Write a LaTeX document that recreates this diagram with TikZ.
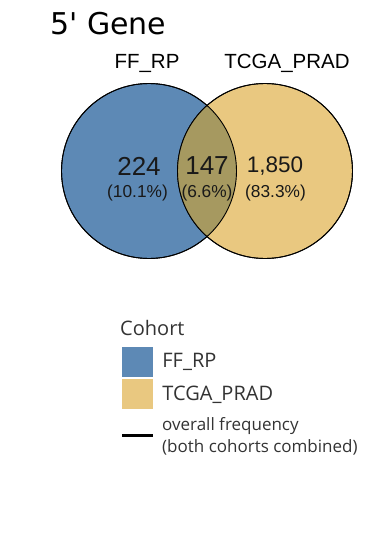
\documentclass[tikz,border=0pt]{standalone}
\usepackage{fontspec}
\usetikzlibrary{positioning}
\newfontfamily\vennfont{Liberation Sans}
\newfontfamily\legfont[Ligatures=TeXOff]{Open Sans}
\newfontfamily\titlefont[Ligatures=TeXOff]{DejaVu Sans}
\definecolor{ffrpblue}{RGB}{93,137,181}
\definecolor{tcgatan}{RGB}{233,200,128}
\definecolor{overlapolive}{RGB}{166,153,96}

\tikzstyle{cohort}=[circle,draw=black,line width=0.9pt,minimum size=175pt,inner sep=0pt]
\tikzstyle{count}=[inner sep=0pt,text=black!90,font=\vennfont\fontsize{26}{26}\selectfont]
\tikzstyle{share}=[inner sep=0pt,text=black!90,font=\vennfont\fontsize{17.3}{17.3}\selectfont]
\tikzstyle{setname}=[inner sep=0pt,font=\vennfont\fontsize{20.5}{20.5}\selectfont]
\tikzstyle{swatch}=[rectangle,minimum width=31pt,minimum height=30pt,inner sep=0pt]
\tikzstyle{leglabel}=[inner sep=0pt,anchor=west,font=\legfont\fontsize{20}{20}\selectfont,text=black!80]

\begin{document}
\begin{tikzpicture}[x=1pt,y=-1pt]
	\useasboundingbox (0,0) rectangle (371,535);
	\node [inner sep=0pt,anchor=base west,font=\titlefont\fontsize{30}{30}\selectfont] (title) at (50,35) {5' Gene};

	% venn
	\node [cohort,fill=ffrpblue] (ffrp) at (149,171) {};
	\node [cohort,fill=tcgatan]  (tcga) at (265,171) {};
	\begin{scope}
		\clip (ffrp.center) circle (87.5pt);
		\fill [overlapolive] (tcga.center) circle (87.5pt);
	\end{scope}
	\draw [line width=0.9pt] (ffrp.center) circle (87.5pt);
	\draw [line width=0.9pt] (tcga.center) circle (87.5pt);

	\node [setname] (nameffrp) at (147,63) {FF\_RP};
	\node [setname] (nametcga) at (287,63) {TCGA\_PRAD};

	\node [count] (only1) at (139,166) {224};
	\node [count] (both)  at (207,166) {147};
	\node [count,font=\vennfont\fontsize{22.5}{22.5}\selectfont] (only2) at (275,166) {1,850};
	\node [share] (pct1) at (137.5,193) {(10.1\%)};
	\node [share] (pct2) at (207,193) {(6.6\%)};
	\node [share] (pct3) at (275.5,193) {(83.3\%)};

	% legend
	\node [leglabel] (legtitle) at (120,328) {Cohort};
	\node [swatch,fill=ffrpblue] (swblue) at (137.5,362) {};
	\node [swatch,fill=tcgatan,below=2pt of swblue] (swtan) {};
	\node [leglabel,right=9pt of swblue] (lblue) {FF\_RP};
	\node [leglabel,right=9pt of swtan] (ltan) {TCGA\_PRAD};
	\coordinate (linestart) at (122,435);
	\coordinate (lineend) at (153,435);
	\draw [line width=3pt] (linestart) -- (lineend);
	\node [leglabel,align=left,font=\legfont\fontsize{17}{22}\selectfont] (lfreq) at (162,436) {overall frequency\\(both cohorts combined)};
\end{tikzpicture}
\end{document}
